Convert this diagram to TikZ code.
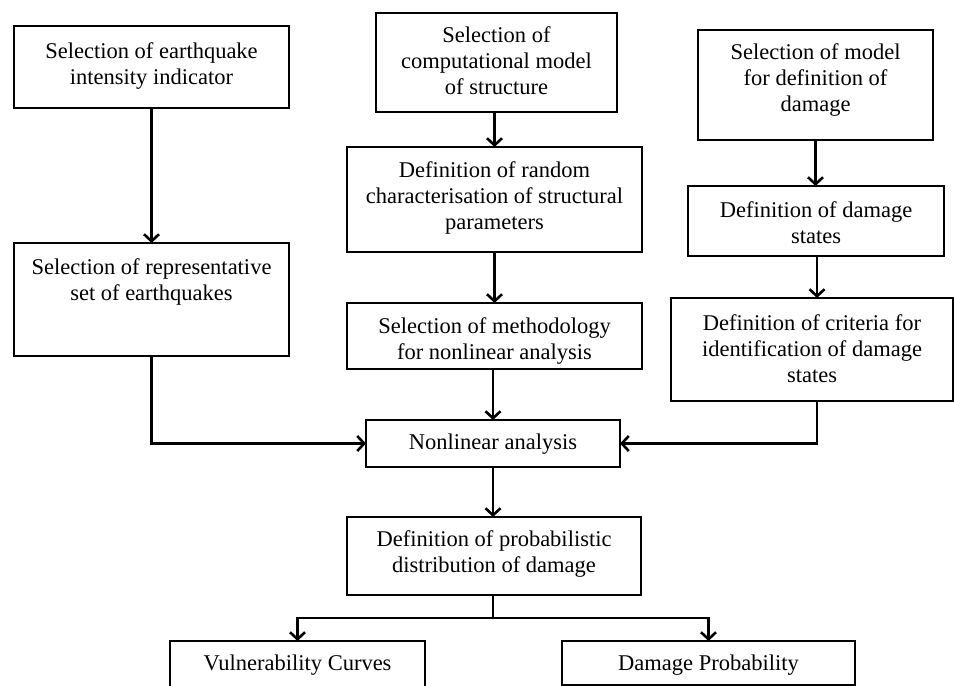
\documentclass[tikz,border=0pt]{standalone}
\usepackage{fontspec}
\setmainfont{Liberation Serif}
\usetikzlibrary{arrows.meta,calc}
\tikzset{
  box/.style={draw=black, line width=2pt, rectangle, inner sep=0pt, outer sep=0pt},
  txt/.style={align=center, inner sep=0pt, font=\fontsize{22.5}{26}\selectfont},
  conn/.style={draw=black, line width=2.6pt},
  arr/.style={conn, -{Straight Barb[length=7pt,width=15pt,line width=2.6pt]}}
}
\newcommand{\mybox}[5]{% name, x1, y1, x2, y2
  \node[box, minimum width={(#4-#2)*1pt}, minimum height={(#5-#3)*1pt}] (#1) at ({(#2+#4)/2},{(#3+#5)/2}) {};
}
\begin{document}
\begin{tikzpicture}[x=1pt,y=-1pt]
\fill[white] (0,0) rectangle (954,686);
\useasboundingbox (0,0) rectangle (954,686);

% boxes
\mybox{b1}{14}{26}{289}{108}
\mybox{b2}{376}{13}{617}{112}
\mybox{b3}{698}{30}{933}{140}
\mybox{b4}{347}{147}{642}{252}
\mybox{b5}{688}{186}{944}{256}
\mybox{b6}{14}{243}{289}{356}
\mybox{b7}{347}{303}{642}{369}
\mybox{b8}{671}{298}{953}{401}
\mybox{b9}{366}{420}{620}{467}
\mybox{b10}{347}{517}{641}{595}
\mybox{b11}{170}{641}{425}{692}
\mybox{b12}{562}{641}{855}{685}

% texts
\node[txt] (t1) at (151.5,66) {Selection of earthquake\\intensity indicator};
\node[txt] (t2) at (496.5,61) {Selection of\\computational model\\of structure};
\node[txt] (t3) at (815.5,80) {Selection of model\\for definition of\\damage};
\node[txt] (t4) at (494.5,198) {Definition of random\\characterisation of structural\\parameters};
\node[txt] (t5) at (816,223) {Definition of damage\\states};
\node[txt] (t6) at (151.5,282) {Selection of representative\\set of earthquakes};
\node[txt] (t7) at (494.5,341) {Selection of methodology\\for nonlinear analysis};
\node[txt] (t8) at (812,349) {Definition of criteria for\\identification of damage\\states};
\node[txt] (t9) at (493,444) {Nonlinear analysis};
\node[txt] (t10) at (494,554) {Definition of probabilistic\\distribution of damage};
\node[txt] (t11) at (297.5,665) {Vulnerability Curves};
\node[txt] (t12) at (708.5,665) {Damage Probability};

% connectors
\coordinate (x8) at (817,0);
\coordinate (br) at (493,618);
\draw[arr] (b1.south) -- (b6.north);
\draw[arr] (b2.south -| b4.north) -- (b4.north);
\draw[arr] (b3.south) -- (b5.north -| b3.south);
\draw[arr] (b4.south) -- (b7.north);
\draw[arr] (b5.south -| x8) -- (b8.north -| x8);
\draw[arr] (b7.south -| b9.north) -- (b9.north);
\draw[arr] (b6.south) |- (b9.west);
\draw[arr] (b8.south -| x8) |- (b9.east);
\draw[arr] (b9.south) -- (b10.north -| b9.south);
\draw[conn] (b10.south -| br) -- (br);
\draw[arr] (br) -| (b11.north);
\draw[arr] (br) -| (b12.north);
\end{tikzpicture}
\end{document}
